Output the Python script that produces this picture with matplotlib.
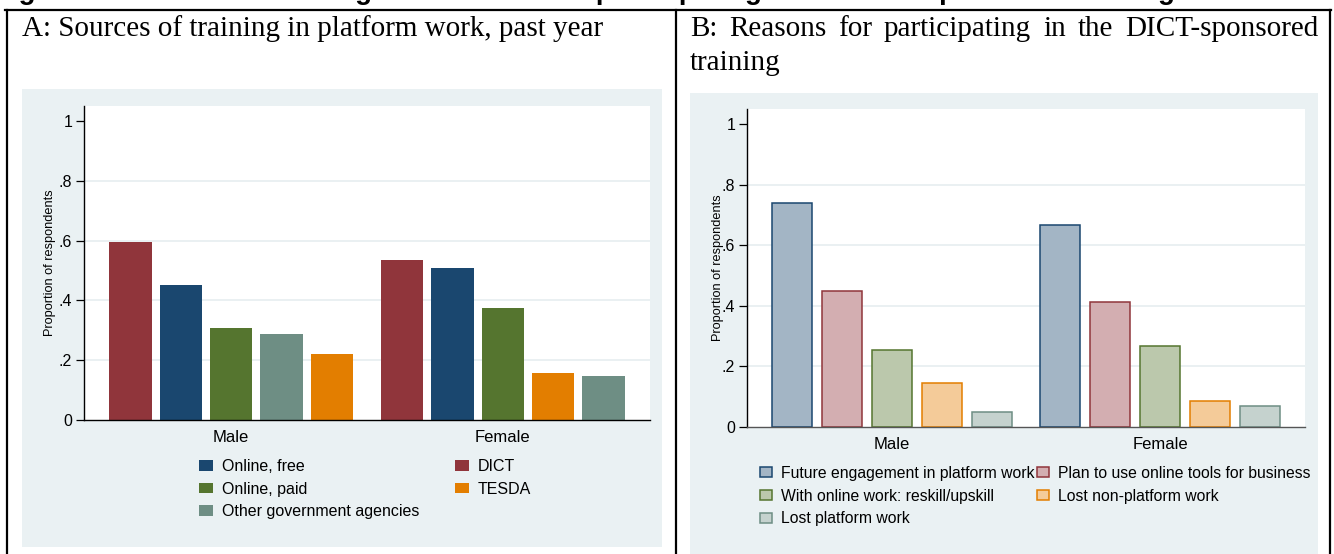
import numpy as np
import matplotlib
matplotlib.use("Agg")
import matplotlib.pyplot as plt
from matplotlib.patches import Rectangle, Patch
from matplotlib.lines import Line2D

W, H = 1334, 554

groups = ["Male", "Female"]

sources = ["Online, free", "DICT", "Online, paid", "TESDA", "Other government agencies"]
sources_male = [0.450, 0.594, 0.306, 0.221, 0.288]
sources_female = [0.507, 0.534, 0.374, 0.156, 0.147]

reasons = ["Future engagement in platform work", "Plan to use online tools for business",
           "With online work: reskill/upskill", "Lost non-platform work", "Lost platform work"]
reasons_male = [0.738, 0.449, 0.254, 0.146, 0.049]
reasons_female = [0.668, 0.412, 0.266, 0.085, 0.069]

ytick_vals = [0, 0.2, 0.4, 0.6, 0.8, 1]
ytick_labels = ["0", ".2", ".4", ".6", ".8", "1"]
grid_vals = [0.2, 0.4, 0.6, 0.8]

# stata s2color
navy = "#1A476F"
maroon = "#90353B"
fgreen = "#55752F"
dkorange = "#E37E00"
teal = "#6E8E84"
series_colors = [navy, maroon, fgreen, dkorange, teal]
bg = "#EAF1F3"

title_top = "Figure 3: Sources of training and reasons for participating in the DICT-sponsored training"
title_a = "A: Sources of training in platform work, past year"
title_b1 = "B: Reasons for participating in the DICT-sponsored"
title_b2 = "training"


def fx(x):
    return x / W


def fy(y):
    return 1 - y / H


def tint(c, f=0.4):
    rgb = np.array(matplotlib.colors.to_rgb(c))
    return tuple(rgb * f + (1 - f))


fig = plt.figure(figsize=(W / 100, H / 100), dpi=100)
fig.patch.set_facecolor("white")

# panel backgrounds
fig.add_artist(Rectangle((fx(22), fy(547)), fx(662 - 22), (547 - 89) / H,
                         transform=fig.transFigure, facecolor=bg, edgecolor="none", zorder=0))
fig.add_artist(Rectangle((fx(690), fy(560)), fx(1318 - 690), (560 - 93) / H,
                         transform=fig.transFigure, facecolor=bg, edgecolor="none", zorder=0))

# table borders
for xs, ys in [([5, 1331], [9.5, 9.5]), ([6.5, 6.5], [9.5, 560]),
               ([676, 676], [9.5, 560]), ([1330, 1330], [9.5, 560])]:
    fig.add_artist(Line2D([fx(v) for v in xs], [fy(v) for v in ys],
                          transform=fig.transFigure, color="black", lw=1.6, zorder=5))

# figure caption, cut off at the top edge as in the source
fig.text(fx(-6), fy(-1), title_top, fontsize=20, weight="bold",
         family="Liberation Sans", va="baseline")
fig.text(fx(22), fy(36), title_a, fontsize=21, family="Liberation Serif", va="baseline")

# justified first line of B title
renderer = fig.canvas.get_renderer()
words = title_b1.split()
objs = [fig.text(0, fy(36), w, fontsize=21, family="Liberation Serif", va="baseline") for w in words]
widths = [o.get_window_extent(renderer).width for o in objs]
gap = (1318 - 690 - sum(widths)) / (len(words) - 1)
xpos = 690
for o, w in zip(objs, widths):
    o.set_x(fx(xpos))
    xpos += w + gap
fig.text(fx(690), fy(70), title_b2, fontsize=21, family="Liberation Serif", va="baseline")


def setup_axes(ax, bottom_color):
    ax.set_facecolor("white")
    ax.set_xlim(-0.541, 1.541)
    ax.set_ylim(0, 1.05)
    for v in grid_vals:
        ax.axhline(v, color="#E6EEF0", lw=1.2, zorder=0)
    ax.spines["top"].set_visible(False)
    ax.spines["right"].set_visible(False)
    ax.spines["left"].set_linewidth(1.0)
    ax.spines["bottom"].set_linewidth(1.0)
    ax.spines["bottom"].set_color(bottom_color)
    ax.set_yticks(ytick_vals, ytick_labels)
    ax.set_xticks(range(len(groups)), groups)
    ax.tick_params(axis="y", length=6, width=0.9, pad=2.5, labelsize=11.5)
    ax.tick_params(axis="x", length=0, pad=7, labelsize=12)
    ax.set_ylabel("Proportion of respondents", fontsize=9.2)
    for lab in ax.get_xticklabels() + ax.get_yticklabels():
        lab.set_family("Liberation Sans")
    ax.yaxis.label.set_family("Liberation Sans")


def draw_group_bars(ax, names, vals_by_group, step, width, filled):
    for g, vals in enumerate(vals_by_group):
        order = np.argsort(vals)[::-1]
        for k, idx in enumerate(order):
            x = g + (k - 2) * step
            c = series_colors[idx]
            if filled:
                ax.bar(x, vals[idx], width=width, color=c, edgecolor="none", zorder=2)
            else:
                ax.bar(x, vals[idx], width=width, color=tint(c), edgecolor=c,
                       lw=1.1, zorder=2)
    if filled:
        handles = [Patch(facecolor=c, edgecolor="none") for c in series_colors]
    else:
        handles = [Patch(facecolor=tint(c), edgecolor=c, lw=1.1) for c in series_colors]
    return handles


# Panel A
axA = fig.add_axes([fx(84), fy(420), fx(650 - 84), (420 - 106) / H])
setup_axes(axA, "black")
hA = draw_group_bars(axA, sources, [sources_male, sources_female], 50 / 270, 42 / 270, True)
axA.yaxis.set_label_coords(-0.05, 0.5)
orderA = [0, 2, 4, 1, 3]
axA.legend([hA[i] for i in orderA], [sources[i] for i in orderA], ncol=2, frameon=False,
           loc="upper left", bbox_to_anchor=(fx(199), fy(459)), bbox_transform=fig.transFigure,
           borderpad=0, borderaxespad=0, handlelength=0.9, handleheight=0.65,
           handletextpad=0.55, labelspacing=0.48, columnspacing=2.2,
           prop={"family": "Liberation Sans", "size": 11.5})

# Panel B
axB = fig.add_axes([fx(747), fy(427), fx(1305 - 747), (427 - 109) / H])
setup_axes(axB, "#555555")
hB = draw_group_bars(axB, reasons, [reasons_male, reasons_female], 50 / 268, 40 / 268, False)
axB.yaxis.set_label_coords(-0.042, 0.5)
orderB = [0, 2, 4, 1, 3]
axB.legend([hB[i] for i in orderB], [reasons[i] for i in orderB], ncol=2, frameon=False,
           loc="upper left", bbox_to_anchor=(fx(760), fy(466)), bbox_transform=fig.transFigure,
           borderpad=0, borderaxespad=0, handlelength=0.75, handleheight=0.6,
           handletextpad=0.6, labelspacing=0.48, columnspacing=0.15,
           prop={"family": "Liberation Sans", "size": 11.3})

fig.savefig("out.png", dpi=100)
